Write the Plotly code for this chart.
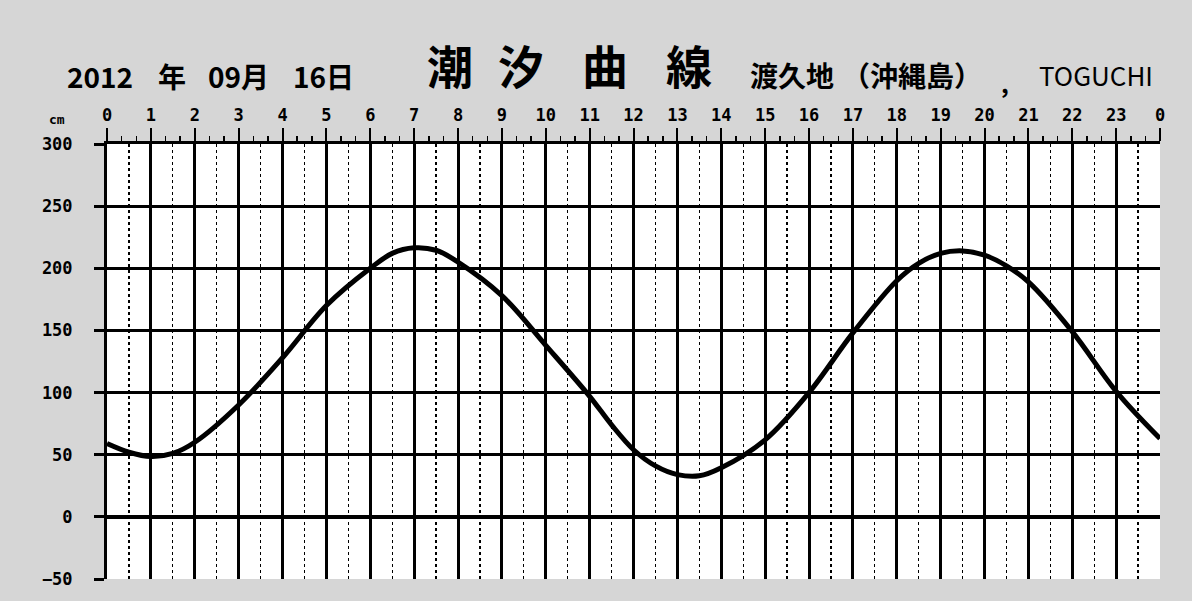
import plotly.graph_objects as go

# ---- data ----
time_h = [0, 0.5, 1, 1.5, 2, 3, 4, 5, 6, 6.5, 7, 7.5, 8, 9, 10, 11, 11.5, 12, 12.5,
          13, 13.5, 14, 15, 16, 17, 18, 18.5, 19, 19.5, 20, 20.5, 21, 22, 23, 24]
tide_cm = [59, 52, 48.5, 51, 60, 90, 128, 170, 200, 212, 216.5, 214.5, 205, 178, 138,
           97, 74, 54, 41, 34, 33, 39.5, 62, 100, 148, 190, 204, 212, 214, 210.5, 202,
           189, 149, 101, 63]
hours = list(range(25))
hour_labels = [str(h % 24) for h in range(25)]
grid_hours = list(range(24))
half_hours = [h + 0.5 for h in range(24)]
y_ticks = [-50, 0, 50, 100, 150, 200, 250, 300]
y_grid = [0, 50, 100, 150, 200, 250, 300]

W, H = 1192, 601
L, R, T, B = 107, 32, 144, 18
PW, PH = W - L - R, H - T - B


def px(x):
    return (x - L) / PW


def py(y):
    return (H - B - y) / PH


CJK = "Noto Sans CJK JP"
fig = go.Figure()
fig.add_trace(go.Scatter(x=time_h, y=tide_cm, mode="lines",
                         line=dict(color="black", width=5, shape="spline", smoothing=1.0),
                         hoverinfo="skip", showlegend=False))
# invisible trace on secondary axes so they render
fig.add_trace(go.Scatter(x=[0, 24], y=[-50, 300], xaxis="x2", yaxis="y2", mode="markers",
                         marker=dict(opacity=0), showlegend=False, hoverinfo="skip"))

fig.update_layout(
    width=W, height=H,
    margin=dict(l=L, r=R, t=T, b=B),
    paper_bgcolor="#d6d6d6",
    plot_bgcolor="white",
    showlegend=False,
    hovermode=False,
    xaxis=dict(range=[0, 24], tickvals=grid_hours, showticklabels=False, ticks="",
               showgrid=True, gridcolor="black", gridwidth=3, zeroline=False, showline=False,
               minor=dict(tickvals=half_hours, showgrid=True, gridcolor="black",
                          gridwidth=1.2, griddash="dot")),
    xaxis2=dict(range=[0, 24], overlaying="x", side="top", tickvals=hours, ticktext=hour_labels,
                showgrid=False, zeroline=False, showline=True, linecolor="black", linewidth=3,
                ticks="outside", ticklen=13, tickwidth=2, tickcolor="black",
                tickfont=dict(family="DejaVu Sans Mono", size=17, color="black", weight="bold"),
                minor=dict(dtick=1 / 3, ticks="outside", ticklen=5, tickwidth=1.5, tickcolor="black")),
    yaxis=dict(range=[-50, 300], tickvals=y_ticks, showgrid=False, zeroline=False,
               showline=True, linecolor="black", linewidth=3,
               ticks="outside", ticklen=10, tickwidth=3, tickcolor="black",
               ticklabelstandoff=18,
               tickfont=dict(family="DejaVu Sans Mono", size=17, color="black", weight="bold")),
    yaxis2=dict(range=[-50, 300], overlaying="y", side="left", tickvals=y_grid,
                showticklabels=False, ticks="", showline=False,
                showgrid=True, gridcolor="black", gridwidth=3,
                zeroline=True, zerolinecolor="black", zerolinewidth=4),
)

ann = []


def add(text, x, y, size, bold=False, family=CJK):
    ann.append(dict(text=text, x=px(x), y=py(y), xref="paper", yref="paper",
                    showarrow=False, xanchor="center", yanchor="middle",
                    font=dict(family=family, size=size, color="black",
                              weight="bold" if bold else "normal")))


add("2012", 100, 75, 28, bold=True)
add("年", 172, 75, 28, bold=True)
add("09月", 238, 75, 28, bold=True)
add("16日", 323, 75, 28, bold=True)
for ch, cx in zip(["潮", "汐", "曲", "線"], [450, 521, 605, 689]):
    add(ch, cx, 63, 46, bold=True)
add("渡久地", 792, 74, 28, bold=True)
add("（沖縄島）", 912, 74, 28, bold=True)
add(",", 1005, 82, 24, bold=True)
add("TOGUCHI", 1096, 74, 26)
add("cm", 57, 119, 13, bold=True, family="DejaVu Sans Mono")
fig.update_layout(annotations=ann)

fig.write_html("out.html", config={"displayModeBar": False, "staticPlot": True},
               post_script="document.body.style.margin='0';")
